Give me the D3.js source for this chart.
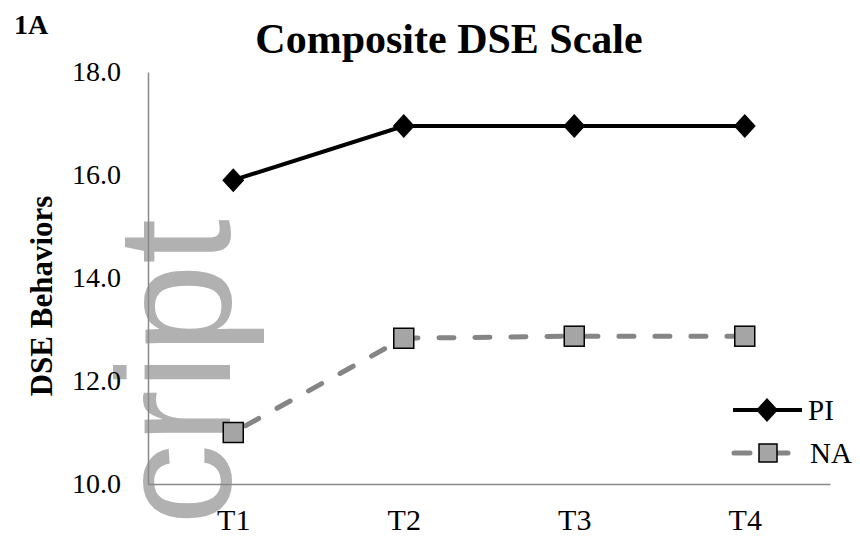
<!DOCTYPE html>
<html>
<head>
<meta charset="utf-8">
<script src="https://cdn.jsdelivr.net/npm/d3@7"></script>
<style>
  body { margin: 0; background: #fff; }
  svg { display: block; font-family: 'Liberation Serif', 'Times New Roman', serif; }
</style>
</head>
<body>
<svg></svg>
<script>
// data

var times = ['T1', 'T2', 'T3', 'T4']
var piValues = [15.9, 16.95, 16.95, 16.95]
var naValues = [11.0, 12.83, 12.87, 12.87]
var yTicks = [10, 12, 14, 16, 18]

var w = 860
var h = 536
var serif = 'Liberation Serif, Times New Roman, serif'

var svg = d3.select('svg')
    .attr('width', w)
    .attr('height', h)

var plotLeft = 148
var plotRight = 830
var plotTop = 72
var plotBottom = 484

var x = d3.scalePoint()
    .domain(times)
    .range([plotLeft, plotRight])
    .padding(0.5)

var y = d3.scaleLinear()
    .domain([10, 18])
    .range([plotBottom, plotTop])

// watermark sits under everything
svg.append('text')
  .text('cript')
  .attr('transform', 'translate(230, 525) rotate(-90)')
  .attr('font-family', 'Liberation Sans, Arial, sans-serif')
  .attr('font-size', '162px')
  .attr('fill', '#b1b1b1')

// axes
var yAxis = svg.append('g')
    .attr('transform', 'translate(' + plotLeft + ',0)')
    .call(d3.axisLeft(y).tickValues(yTicks).tickFormat(d3.format('.1f'))
      .tickSize(0).tickPadding(27))
    .attr('font-family', serif)
    .attr('font-size', '28px')

var xAxis = svg.append('g')
    .attr('transform', 'translate(0,' + plotBottom + ')')
    .call(d3.axisBottom(x).tickSize(0).tickSizeOuter(0).tickPadding(25))
    .attr('font-family', serif)
    .attr('font-size', '30px')

svg.selectAll('.domain')
  .attr('stroke', '#898989')
  .attr('stroke-width', 1.5)

svg.selectAll('.tick text')
  .attr('fill', '#000')

// titles
svg.append('text')
  .text('Composite DSE Scale')
  .attr('x', 449)
  .attr('y', 53)
  .attr('text-anchor', 'middle')
  .attr('font-weight', 'bold')
  .attr('font-size', '42px')

svg.append('text')
  .text('1A')
  .attr('x', 14)
  .attr('y', 34)
  .attr('font-weight', 'bold')
  .attr('font-size', '28px')

svg.append('text')
  .text('DSE Behaviors')
  .attr('transform', 'translate(52, 296) rotate(-90)')
  .attr('text-anchor', 'middle')
  .attr('font-weight', 'bold')
  .attr('font-size', '31px')

// lines
var line = d3.line()
    .x(function (d, i) { return x(times[i]) })
    .y(function (d) { return y(d) })

svg.append('path')
  .datum(naValues)
  .attr('d', line)
  .attr('fill', 'none')
  .attr('stroke', '#858585')
  .attr('stroke-width', 5)
  .attr('stroke-linecap', 'round')
  .attr('stroke-dasharray', '15,21')
  .attr('stroke-dashoffset', -14)

svg.append('path')
  .datum(piValues)
  .attr('d', line)
  .attr('fill', 'none')
  .attr('stroke', '#000')
  .attr('stroke-width', 4)

var diamond = 'M0,-12L11,0L0,12L-11,0Z'

svg.selectAll('.pi')
  .data(piValues)
  .enter()
  .append('path')
  .attr('class', 'pi')
  .attr('d', diamond)
  .attr('transform', function (d, i) {
    return 'translate(' + x(times[i]) + ',' + y(d) + ')'
  })
  .attr('fill', '#000')

svg.selectAll('.na')
  .data(naValues)
  .enter()
  .append('rect')
  .attr('class', 'na')
  .attr('x', function (d, i) { return x(times[i]) - 10 })
  .attr('y', function (d) { return y(d) - 10 })
  .attr('width', 20)
  .attr('height', 20)
  .attr('fill', '#a5a5a5')
  .attr('stroke', '#000')
  .attr('stroke-width', 1.5)

// legend
var lg = svg.append('g')
    .attr('font-family', serif)
    .attr('font-size', '29px')

lg.append('line')
  .attr('x1', 733).attr('x2', 802)
  .attr('y1', 410).attr('y2', 410)
  .attr('stroke', '#000')
  .attr('stroke-width', 4)

lg.append('path')
  .attr('d', diamond)
  .attr('transform', 'translate(767,410)')
  .attr('fill', '#000')

lg.append('text')
  .text('PI')
  .attr('x', 808)
  .attr('y', 420)

lg.append('line')
  .attr('x1', 734).attr('x2', 788)
  .attr('y1', 453).attr('y2', 453)
  .attr('stroke', '#858585')
  .attr('stroke-width', 5)
  .attr('stroke-linecap', 'round')
  .attr('stroke-dasharray', '16,22')

lg.append('rect')
  .attr('x', 759).attr('y', 444)
  .attr('width', 18).attr('height', 18)
  .attr('fill', '#a5a5a5')
  .attr('stroke', '#000')
  .attr('stroke-width', 1.5)

lg.append('text')
  .text('NA')
  .attr('x', 810)
  .attr('y', 463)
</script>
</body>
</html>
